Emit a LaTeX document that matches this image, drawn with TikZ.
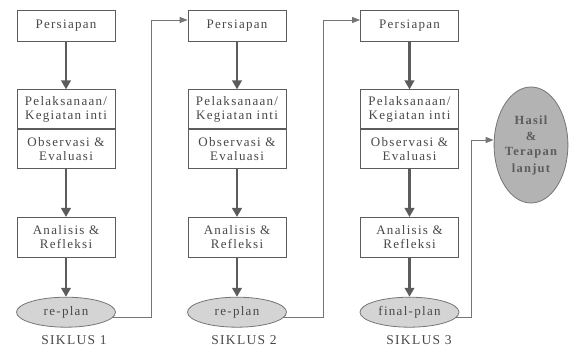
\documentclass[tikz,border=0pt]{standalone}
\usepackage{fontspec}
\setmainfont[LetterSpace=10]{Liberation Serif}
\usepackage{xcolor}
\usetikzlibrary{arrows.meta,positioning,shapes.geometric}

\definecolor{edgegray}{HTML}{5C5C5C}
\definecolor{inkgray}{HTML}{484848}
\definecolor{linkgray}{HTML}{757575}
\definecolor{planfill}{HTML}{D4D4D4}
\definecolor{goalfill}{HTML}{B3B3B3}

\begin{document}
\begin{tikzpicture}[
  x=1pt, y=1pt,
  font=\fontsize{13}{14}\selectfont, text=inkgray,
  node distance=48pt,
  stage/.style={draw=edgegray, line width=0.8pt, align=center, inner sep=0pt, minimum width=98pt, minimum height=31pt, fill=white},
  half/.style={draw=edgegray, line width=0.8pt, align=center, inner sep=0pt, minimum width=98pt, minimum height=39pt, fill=white},
  plan/.style={draw=linkgray, ellipse, line width=0.8pt, inner sep=0pt, minimum width=99pt, minimum height=30pt, fill=planfill},
  goal/.style={draw=linkgray, ellipse, line width=0.8pt, align=center, inner sep=0pt, minimum width=68pt, minimum height=116pt, fill=goalfill, font=\fontsize{12.5}{16}\selectfont\bfseries, text=edgegray},
  cycle/.style={font=\fontsize{13.5}{15}\selectfont},
  flow/.style={-{Triangle[length=9pt, width=9.5pt]}, line width=2.6pt, draw=edgegray},
  link/.style={-{Triangle[length=8pt, width=6pt]}, line width=0.9pt, draw=linkgray}
]
\useasboundingbox (0,0) rectangle (570,347);

% siklus 1
\node[stage] (prep1) at (66,321.5) {Persiapan};
\node[half, below=of prep1] (act1) {Pelaksanaan/\\Kegiatan inti};
\node[half, below=0pt of act1] (obs1) {Observasi \&\\Evaluasi};
\node[stage, below=of obs1, minimum height=40pt] (ana1) {Analisis \&\\Refleksi};
\node[plan, below=39pt of ana1] (plan1) {re-plan};
\node[cycle] (sik1) at (74,7) {SIKLUS 1};

% siklus 2
\node[stage] (prep2) at (237,321.5) {Persiapan};
\node[half, below=of prep2] (act2) {Pelaksanaan/\\Kegiatan inti};
\node[half, below=0pt of act2] (obs2) {Observasi \&\\Evaluasi};
\node[stage, below=of obs2, minimum height=40pt] (ana2) {Analisis \&\\Refleksi};
\node[plan, below=39pt of ana2] (plan2) {re-plan};
\node[cycle] (sik2) at (244,7) {SIKLUS 2};

% siklus 3
\node[stage] (prep3) at (409.5,321.5) {Persiapan};
\node[half, below=of prep3] (act3) {Pelaksanaan/\\Kegiatan inti};
\node[half, below=0pt of act3] (obs3) {Observasi \&\\Evaluasi};
\node[stage, below=of obs3, minimum height=40pt] (ana3) {Analisis \&\\Refleksi};
\node[plan, below=39pt of ana3] (plan3) {final-plan};
\node[cycle] (sik3) at (419,7) {SIKLUS 3};

\node[goal] (hasil) at (531,202) {Hasil\\\&\\Terapan\\lanjut};

\foreach \i in {1,2,3} {
  \draw[flow] (prep\i) -- (act\i);
  \draw[flow] (obs\i) -- (ana\i);
  \draw[flow] (ana\i) -- (plan\i);
}

\coordinate (turn1) at (151,327);
\coordinate (turn2) at (323,327);
\coordinate (turn3) at (471,207);
\draw[link] (plan1.-7) -| (turn1) -- (turn1 -| prep2.west);
\draw[link] (plan2.-7) -| (turn2) -- (turn2 -| prep3.west);
\draw[link] (plan3.-7) -| (turn3) -- (turn3 -| hasil.west);
\end{tikzpicture}
\end{document}
